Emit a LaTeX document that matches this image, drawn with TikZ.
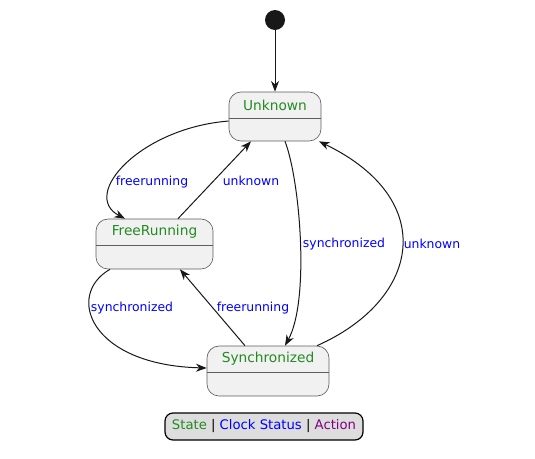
\documentclass[tikz,border=0pt]{standalone}
\usepackage{fontspec}
\setmainfont{DejaVu Sans}
\usetikzlibrary{positioning,arrows.meta}
\definecolor{statefill}{HTML}{F1F1F1}
\definecolor{stateline}{HTML}{181818}
\definecolor{namegreen}{HTML}{228B22}
\definecolor{evblue}{HTML}{0000FF}
\definecolor{actpurple}{HTML}{800080}
\definecolor{keyfill}{HTML}{DDDDDD}
\tikzset{
  state/.style={draw=stateline!70, fill=statefill, rounded corners=9pt, line width=0.5pt, inner sep=0pt},
  sname/.style={text=namegreen, font=\fontsize{10.3}{12}\selectfont, minimum height=19.9pt, inner sep=0pt},
  divider/.style={draw=stateline!70, line width=0.5pt},
  start/.style={circle, fill=stateline, minimum size=15pt, inner sep=0pt},
  trans/.style={draw=stateline, line width=0.75pt, -{Stealth[length=8pt,width=6pt,inset=2.5pt]}},
  tlabel/.style={text=evblue, font=\fontsize{9.3}{11}\selectfont, inner sep=0pt},
  keybox/.style={draw=black, fill=keyfill, rounded corners=6pt, line width=0.9pt, minimum width=148.5pt, minimum height=20.25pt, font=\fontsize{9.9}{12}\selectfont, inner sep=0pt},
}
\begin{document}
\begin{tikzpicture}[x=0.75pt, y=-0.75pt]
  \useasboundingbox (0,0) rectangle (535,458);

  % Define nodes
  \node[start] (init) at (275,20) {};
  \node[state, minimum width=69pt, minimum height=36.75pt] (unk) at (275,116.5) {};
  \node[sname, below=0pt of unk.north] (unk-t) {Unknown};
  \node[state, minimum width=87.75pt, minimum height=37.5pt] (fre) at (154.5,244) {};
  \node[sname, below=0pt of fre.north] (fre-t) {FreeRunning};
  \node[state, minimum width=91.5pt, minimum height=37.5pt] (syn) at (268,371) {};
  \node[sname, below=0pt of syn.north] (syn-t) {Synchronized};

  \draw[divider] (unk.west |- unk-t.south) -- (unk.east |- unk-t.south);
  \draw[divider] (fre.west |- fre-t.south) -- (fre.east |- fre-t.south);
  \draw[divider] (syn.west |- syn-t.south) -- (syn.east |- syn-t.south);

  % Labels
  \node[tlabel] (l-uf) at (152,182) {freerunning};
  \node[tlabel] (l-fu) at (251,181) {unknown};
  \node[tlabel] (l-us) at (344,244) {synchronized};
  \node[tlabel] (l-su) at (432,244) {unknown};
  \node[tlabel] (l-fs) at (132,308) {synchronized};
  \node[tlabel] (l-sf) at (253,308) {freerunning};

  % Connect the nodes
  \draw[trans] (init) -- (unk);
  \draw[trans] ([yshift=-3.4pt]unk.west) .. controls (140,128) and (80,195) .. ([xshift=-22.1pt]fre.north);
  \draw[trans] ([xshift=17.6pt]fre.north) -- ([xshift=-18pt]unk.south);
  \draw[trans] ([xshift=7.5pt]unk.south) .. controls (300,180) and (310,300) .. ([xshift=12.75pt]syn.north);
  \draw[trans] ([xshift=36.75pt]syn.north) .. controls (420,300) and (440,200) .. ([xshift=33pt]unk.south);
  \draw[trans] ([xshift=-33.4pt]fre.south) .. controls (65,295) and (90,365) .. ([yshift=2.25pt]syn.west);
  \draw[trans] ([xshift=-17.25pt]syn.north) -- ([xshift=19.1pt]fre.south);

  % Legend
  \node[keybox] (key) at (264,426.5) {\textcolor{namegreen}{State} | \textcolor{evblue}{Clock Status} | \textcolor{actpurple}{Action}};
\end{tikzpicture}
\end{document}
